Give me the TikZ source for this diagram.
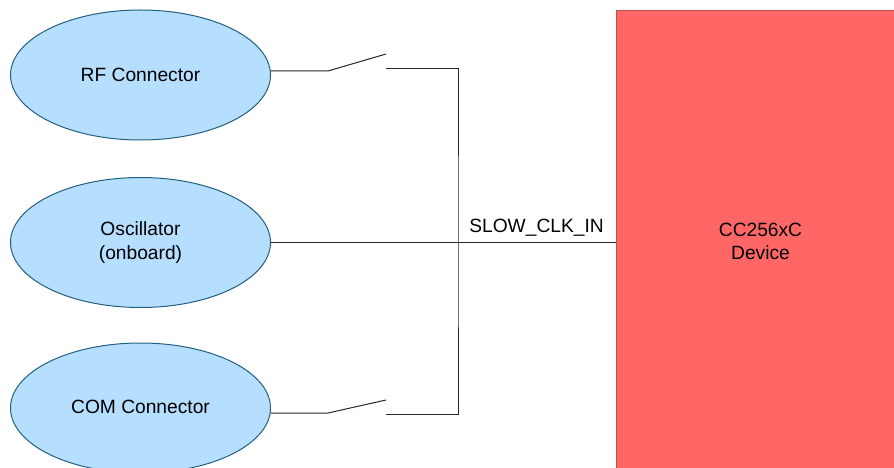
\documentclass[tikz,border=0pt]{standalone}
\usepackage{fontspec}
\setmainfont{Liberation Sans}
\usetikzlibrary{shapes.geometric}
\definecolor{ellfill}{HTML}{B5DEFF}
\definecolor{elldraw}{HTML}{23607F}
\definecolor{devfill}{HTML}{FF6666}
\definecolor{devdraw}{HTML}{B85450}
\tikzset{
  source/.style={ellipse,draw=elldraw,fill=ellfill,line width=1pt,minimum width=260pt,minimum height=130pt,inner sep=0pt,outer sep=0pt,align=center,font=\fontsize{19.2}{23.5}\selectfont},
  device/.style={rectangle,draw=devdraw,fill=devfill,line width=1pt,minimum width=289pt,minimum height=462pt,inner sep=0pt,outer sep=0pt,align=center,font=\fontsize{19.2}{22.5}\selectfont},
  wire/.style={draw=black!85,line width=1pt},
  siglabel/.style={font=\fontsize{19.2}{23}\selectfont,inner sep=0pt}
}
\begin{document}
\begin{tikzpicture}[x=1pt,y=-1pt]
\useasboundingbox (0,0) rectangle (894,468);
\node[source] (rf) at (140.5,75) {RF Connector};
\node[source] (osc) at (140.5,242.5) {Oscillator\\(onboard)};
\node[source,text depth=2.2pt] (com) at (140.5,408) {COM Connector};
\node[device] (dev) at (760.5,241.5) {CC256xC\\Device};
\coordinate (a1) at (328,71);
\coordinate (a2) at (386,54);
\coordinate (a3) at (386,68.5);
\coordinate (b1) at (328,413);
\coordinate (b2) at (386,400);
\coordinate (b3) at (386,414.5);
\coordinate (bus) at (458,242);
\draw[wire] (rf.east |- a1) -- (a1) -- (a2);
\draw[wire] (com.east |- b1) -- (b1) -- (b2);
\draw[wire] (a3) -| (bus) |- (b3);
\draw[wire] (osc.east) -- (dev.west |- osc.east);
\node[siglabel,anchor=base] (sig) at (536.5,232.5) {SLOW\_CLK\_IN};
\end{tikzpicture}
\end{document}
